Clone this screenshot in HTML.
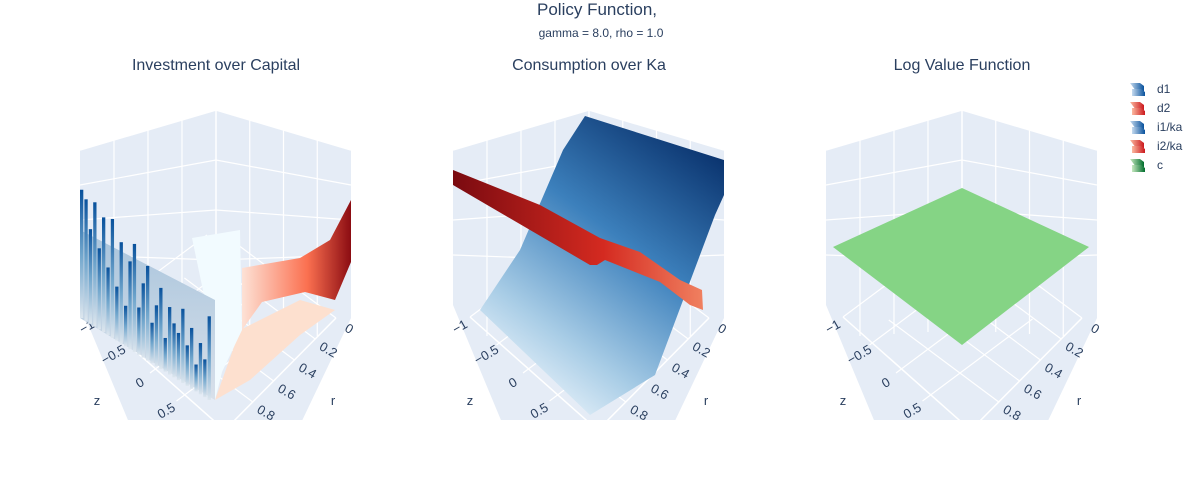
<!DOCTYPE html>
<html><head><meta charset="utf-8">
<style>
body{margin:0;background:#fff;}
svg{display:block;font-family:"Liberation Sans",Arial,sans-serif;}
</style></head>
<body>
<svg id="chart" width="1200" height="500" viewBox="0 0 1200 500" xmlns="http://www.w3.org/2000/svg">
<defs>
 <linearGradient id="gBlue1" x1="0" y1="0" x2="0" y2="1"><stop offset="0" stop-color="#08519c"/><stop offset="0.5" stop-color="#6fa5cc"/><stop offset="1" stop-color="#dde6ee"/></linearGradient>
 <linearGradient id="gBlueBg" x1="0" y1="0" x2="0" y2="1"><stop offset="0" stop-color="#a8c4dc"/><stop offset="1" stop-color="#d8e0ea"/></linearGradient>
 <linearGradient id="gRed1" x1="0" y1="0" x2="1" y2="0"><stop offset="0" stop-color="#fde2d6"/><stop offset="0.6" stop-color="#fb7050"/><stop offset="1" stop-color="#8b0c12"/></linearGradient>
 <linearGradient id="gBlue2" x1="0.8" y1="0" x2="0.2" y2="1"><stop offset="0" stop-color="#08306b"/><stop offset="0.4" stop-color="#3c80bc"/><stop offset="0.75" stop-color="#a9cde6"/><stop offset="1" stop-color="#f7fbff"/></linearGradient>
 <linearGradient id="gRed2" x1="0" y1="0" x2="1" y2="0"><stop offset="0" stop-color="#7a0a10"/><stop offset="0.6" stop-color="#d42a20"/><stop offset="1" stop-color="#f08060"/></linearGradient>
 <linearGradient id="lgB" x1="0" y1="0" x2="1" y2="0"><stop offset="0" stop-color="#c6dbef"/><stop offset="1" stop-color="#08519c"/></linearGradient>
 <linearGradient id="lgR" x1="0" y1="0" x2="1" y2="0"><stop offset="0" stop-color="#fcbba1"/><stop offset="1" stop-color="#cb181d"/></linearGradient>
 <linearGradient id="lgG" x1="0" y1="0" x2="1" y2="0"><stop offset="0" stop-color="#c7e9c0"/><stop offset="1" stop-color="#006d2c"/></linearGradient>
 <clipPath id="clipS"><rect x="0" y="90" width="1200" height="330"/></clipPath>
</defs>

<text x="597" y="15" text-anchor="middle" font-size="17" fill="#2a3f5f">Policy Function,</text>
<text x="601" y="37" text-anchor="middle" font-size="12" fill="#2a3f5f">gamma = 8.0, rho = 1.0</text>
<text x="216" y="70" text-anchor="middle" font-size="16" fill="#2a3f5f">Investment over Capital</text>
<text x="589" y="70" text-anchor="middle" font-size="16" fill="#2a3f5f">Consumption over Ka</text>
<text x="962" y="70" text-anchor="middle" font-size="16" fill="#2a3f5f">Log Value Function</text>

<g id="scenes" clip-path="url(#clipS)"></g>
<g id="legend"></g>
</svg>
<script>
const NS="http://www.w3.org/2000/svg";
const sceneOffsets=[0,373,746];
const sceneNames=["scene-investment","scene-consumption","scene-log-value"];
const zTicks=["−1","−0.5","0","0.5"];
const zTickVals=[-1,-0.5,0,0.5];
const rTicks=["0","0.2","0.4","0.6","0.8"];
const rTickVals=[0,0.2,0.4,0.6,0.8];
const legendNames=["d1","d2","i1/ka","i2/ka","c"];
const legendFills=["url(#lgB)","url(#lgR)","url(#lgB)","url(#lgR)","url(#lgG)"];
// spike heights for d1 in scene 1 (normalised 0..1)
const spikeHeights=[0.95,0.9,0.7,0.92,0.6,0.85,0.5,0.88,0.4,0.75,0.3,0.65,0.8,0.35,0.55,0.7,0.3,0.45,0.6,0.25,0.5,0.4,0.35,0.55,0.3,0.45,0.2,0.38,0.28,0.62];

function el(tag,attrs,parent){const e=document.createElementNS(NS,tag);for(const k in attrs)e.setAttribute(k,attrs[k]);(parent||document.getElementById('scenes')).appendChild(e);return e;}
function pts(arr){return arr.map(p=>p[0].toFixed(1)+','+p[1].toFixed(1)).join(' ');}
function zEdge(dx,z){return [97+dx+53*(z+1), 317+56*(z+1)];}
function rEdge(dx,r){return [336+dx-104*r, 318+105*r];}

const root=document.getElementById('scenes');
sceneOffsets.forEach((dx,i)=>{
 const g=el('g',{},root);
 
 
 const bg=el('polygon',{points:pts([[216+dx,110],[351+dx,150],[351+dx,318],[300+dx,425],[130+dx,425],[80+dx,305],[80+dx,150]]),fill:'#e5ecf6'},g);
 
 
 el('polyline',{points:pts([[80+dx,150],[216+dx,110],[351+dx,150]]),fill:'none',stroke:'#fff','stroke-width':1.5},g);
 el('line',{x1:216+dx,y1:110,x2:216+dx,y2:330,stroke:'#fff','stroke-width':1.5},g);
 [0.25,0.5,0.75].forEach(t=>{
  el('line',{x1:216+dx-136*t,y1:110+40*t,x2:216+dx-136*t,y2:330+8*t,stroke:'#fff','stroke-width':1.2},g);
  el('line',{x1:216+dx+135*t,y1:110+40*t,x2:216+dx+135*t,y2:330+8*t,stroke:'#fff','stroke-width':1.2},g);
 });
 [0.25,0.5,0.75].forEach(t=>{
  const y=110+200*t;
  el('polyline',{points:pts([[80+dx,150+140*t],[216+dx,y],[351+dx,150+140*t]]),fill:'none',stroke:'#fff','stroke-width':1.2},g);
 });
 el('line',{x1:97+dx,y1:317,x2:230+dx,y2:435,stroke:'#fff','stroke-width':1.5},g);
 el('line',{x1:336+dx,y1:318,x2:220+dx,y2:435,stroke:'#fff','stroke-width':1.5},g);
 zTickVals.forEach((z,k)=>{
  const p=zEdge(dx,z);
  el('line',{x1:p[0],y1:p[1],x2:p[0]+110,y2:p[1]-82,stroke:'#fff','stroke-width':1.2},g);
  const t=el('text',{x:p[0]-10,y:p[1]+14,'font-size':13,fill:'#2a3f5f','text-anchor':'middle',transform:`rotate(-30 ${p[0]-10} ${p[1]+10})`},g);
  t.textContent=zTicks[k];
  
  
 });
 rTickVals.forEach((r,k)=>{
  const p=rEdge(dx,r);
  el('line',{x1:p[0],y1:p[1],x2:p[0]-110,y2:p[1]-82,stroke:'#fff','stroke-width':1.2},g);
  const t=el('text',{x:p[0]+13,y:p[1]+15,'font-size':13,fill:'#2a3f5f','text-anchor':'middle',transform:`rotate(30 ${p[0]+13} ${p[1]+11})`},g);
  t.textContent=rTicks[k];
  
  
 });
 const zt=el('text',{x:97+dx,y:405,'font-size':13,fill:'#2a3f5f','text-anchor':'middle'},g);zt.textContent='z';
 
 const rt=el('text',{x:333+dx,y:405,'font-size':13,fill:'#2a3f5f','text-anchor':'middle'},g);rt.textContent='r';
 
});

// scene 1 surfaces
(function(){
 const g=document.getElementById('scenes');
 const floor=el('polygon',{points:'215,400 240,330 300,300 335,310 300,335 250,380',fill:'#fde0cf'},g);
 
 const white=el('polygon',{points:'192,238 240,230 242,330 222,372 215,400 205,300',fill:'#f2fbff'},g);
 
 const red=el('polygon',{points:'242,268 300,258 330,240 351,200 351,262 335,300 305,292 262,302 242,330',fill:'url(#gRed1)'},g);
 
 const back=el('polygon',{points:'80,230 215,300 215,400 80,318',fill:'url(#gBlueBg)'},g);
 
 const n=spikeHeights.length;
 const w=132/n;
 spikeHeights.forEach((h,k)=>{
  const t=k/(n-1);
  const x=80+t*(132-w), base=318+t*82;
  const top=base-h*135;
  const s=el('rect',{x:x,y:top,width:w*0.75,height:base-top,fill:'url(#gBlue1)'},g);
  
  
 });
})();

// scene 2 surfaces
(function(){
 const g=document.getElementById('scenes');
 const blue=el('polygon',{points:'585,116 724,160 724,195 715,215 655,375 590,415 480,310 520,250 563,150',fill:'url(#gBlue2)'},g);
 
 const red=el('polygon',{points:'453,170 540,205 600,238 640,252 680,280 702,290 703,310 690,305 660,282 605,260 597,265 590,265 453,185',fill:'url(#gRed2)'},g);
 
})();

// scene 3 plane
(function(){
 const g=document.getElementById('scenes');
 const pl=el('polygon',{points:pts([[962,188],[1089,247],[962,345],[833,247]]),fill:'#85d485'},g);
 
})();

// legend
const lg=document.getElementById('legend');
legendNames.forEach((nm,k)=>{
 const y=89+19*k;
 const it=el('g',{},lg);
 
 
 el('path',{d:`M1130 ${y-6} h10 l4 3 v5 h-8 z`,fill:legendFills[k]},it);
 el('path',{d:`M1132 ${y} h9 l4 3 v4 h-13 z`,fill:legendFills[k]},it);
 const t=el('text',{x:1157,y:y+4,'font-size':12,fill:'#2a3f5f'},it);
 t.textContent=nm;
});
</script>
</body></html>
